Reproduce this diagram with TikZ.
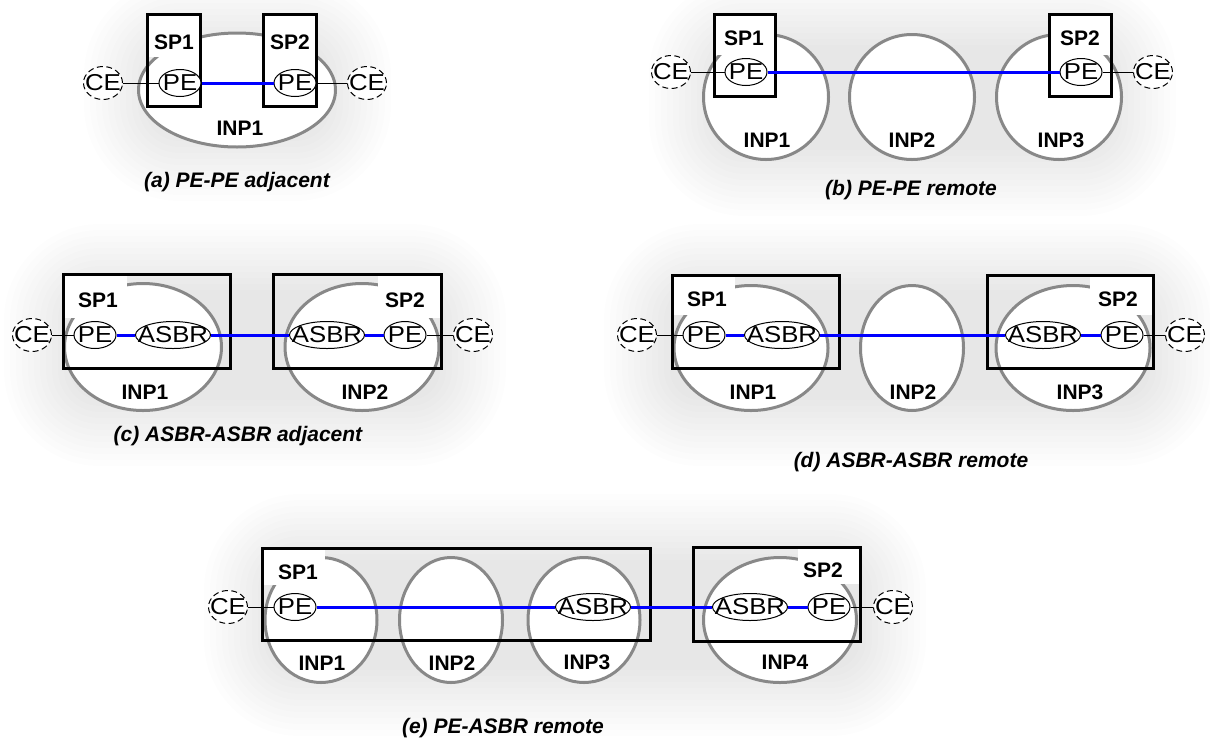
\documentclass[tikz,border=0pt]{standalone}
\usepackage{fontspec}
\setmainfont{Liberation Sans}
\usepackage{graphicx}
\usetikzlibrary{shapes.geometric}
\definecolor{inpgray}{HTML}{888888}
\definecolor{linkblue}{HTML}{0000FF}
\newcommand{\nt}[1]{\makebox[0pt]{\scalebox{1.12}[1]{#1}}}
\newcommand{\panelglow}[4]{%
  \foreach \k in {0,...,11}{%
    \pgfmathsetmacro{\rr}{30+6*\k}%
    \fill[black, opacity=0.0095, rounded corners=\rr pt] ({#1-6*\k},{#2-6*\k}) rectangle ({#3+6*\k},{#4+6*\k});
  }}
\tikzset{
  inp/.style={ellipse, draw=inpgray, line width=3pt, fill=white, inner sep=0pt},
  spbox/.style={rectangle, draw=black, line width=3pt, inner sep=0pt},
  patch/.style={rectangle, fill=white, draw=none, inner sep=0pt},
  pe/.style={ellipse, draw=black, line width=1pt, fill=white, inner sep=0pt, minimum width=42pt, minimum height=27pt, font=\fontsize{23}{26}\selectfont},
  asbr/.style={pe, minimum width=75pt},
  ce/.style={pe, dash pattern=on 6pt off 3.5pt, minimum width=39pt, minimum height=33pt},
  lbl/.style={font=\fontsize{21}{24}\selectfont\bfseries, inner sep=0pt},
  captext/.style={font=\fontsize{21}{24}\selectfont\bfseries\itshape, inner sep=0pt},
  blink/.style={draw=linkblue, line width=3pt},
  clink/.style={draw=black, line width=1pt},
}
\begin{document}
\begin{tikzpicture}[x=1pt, y=-1pt]
\useasboundingbox (0,0) rectangle (1210,740);
\fill[white] (0,0) rectangle (1210,740);
% glows
\panelglow{150}{45}{325}{135}
\panelglow{715}{45}{1110}{150}
\panelglow{70}{290}{440}{400}
\panelglow{670}{290}{1150}{400}
\panelglow{270}{560}{860}{670}

% ===== (a) =====
\node[inp, minimum width=197pt, minimum height=114pt] (a-inp1) at (237,90) {};
\node[patch, minimum width=52pt, minimum height=42pt] (a-p1) at (174,36) {};
\node[patch, minimum width=52pt, minimum height=42pt] (a-p2) at (290,36) {};
\node[spbox, minimum width=53pt, minimum height=92pt] (a-sp1) at (174,60.5) {};
\node[spbox, minimum width=53pt, minimum height=92pt] (a-sp2) at (290,60.5) {};
\node[pe] (a-pe1) at (180,83) {\nt{PE}};
\node[pe] (a-pe2) at (295,83) {\nt{PE}};
\node[ce] (a-ce1) at (103,83) {\nt{CE}};
\node[ce] (a-ce2) at (367,83) {\nt{CE}};
\draw[blink] (a-pe1) -- (a-pe2);
\draw[clink] (a-ce1) -- (a-pe1);
\draw[clink] (a-pe2) -- (a-ce2);
\node[lbl] (a-l1) at (174,42) {SP1};
\node[lbl] (a-l2) at (290,42) {SP2};
\node[lbl] (a-l3) at (240,128) {INP1};
\node[captext] (a-cap) at (237,182) {(a) PE-PE adjacent};

% ===== (b) =====
\node[inp, minimum width=125pt, minimum height=125pt] (b-inp1) at (766,97) {};
\node[inp, minimum width=125pt, minimum height=125pt] (b-inp2) at (912,97) {};
\node[inp, minimum width=125pt, minimum height=125pt] (b-inp3) at (1059,97) {};
\node[patch, minimum width=60pt, minimum height=40pt] (b-p1) at (745,35) {};
\node[patch, minimum width=60pt, minimum height=40pt] (b-p2) at (1080.5,35) {};
\node[spbox, minimum width=61pt, minimum height=82pt] (b-sp1) at (745,55.5) {};
\node[spbox, minimum width=62pt, minimum height=82pt] (b-sp2) at (1080.5,55.5) {};
\node[pe] (b-pe1) at (746,72) {\nt{PE}};
\node[pe] (b-pe2) at (1081,72) {\nt{PE}};
\node[ce] (b-ce1) at (671,72) {\nt{CE}};
\node[ce] (b-ce2) at (1153,72) {\nt{CE}};
\draw[blink] (b-pe1) -- (b-pe2);
\draw[clink] (b-ce1) -- (b-pe1);
\draw[clink] (b-pe2) -- (b-ce2);
\node[lbl] (b-l1) at (744,38) {SP1};
\node[lbl] (b-l2) at (1080,38) {SP2};
\node[lbl] (b-l3) at (767,140) {INP1};
\node[lbl] (b-l4) at (912,140) {INP2};
\node[lbl] (b-l5) at (1061,140) {INP3};
\node[captext] (b-cap) at (911,190) {(b) PE-PE remote};

% ===== (c) =====
\node[inp, minimum width=157pt, minimum height=127pt] (c-inp1) at (143,347) {};
\node[inp, minimum width=154pt, minimum height=127pt] (c-inp2) at (362,347) {};
\node[patch, minimum width=63pt, minimum height=43pt] (c-p1) at (95.5,296.5) {};
\node[patch, minimum width=63pt, minimum height=43pt] (c-p2) at (409.5,296.5) {};
\node[spbox, minimum width=167pt, minimum height=94pt] (c-sp1) at (147,321.5) {};
\node[spbox, minimum width=168pt, minimum height=94pt] (c-sp2) at (357.5,321.5) {};
\node[pe] (c-pe1) at (95,335) {\nt{PE}};
\node[asbr] (c-as1) at (173,335) {\nt{ASBR}};
\node[asbr] (c-as2) at (327,335) {\nt{ASBR}};
\node[pe] (c-pe2) at (405,335) {\nt{PE}};
\node[ce] (c-ce1) at (32,335) {\nt{CE}};
\node[ce] (c-ce2) at (473,335) {\nt{CE}};
\draw[blink] (c-pe1) -- (c-as1);
\draw[blink] (c-as1) -- (c-as2);
\draw[blink] (c-as2) -- (c-pe2);
\draw[clink] (c-ce1) -- (c-pe1);
\draw[clink] (c-pe2) -- (c-ce2);
\node[lbl] (c-l1) at (98,300) {SP1};
\node[lbl] (c-l2) at (405,300) {SP2};
\node[lbl] (c-l3) at (145,392) {INP1};
\node[lbl] (c-l4) at (365,392) {INP2};
\node[captext] (c-cap) at (238,436) {(c) ASBR-ASBR adjacent};

% ===== (d) =====
\node[inp, minimum width=154pt, minimum height=125pt] (d-inp1) at (751,348) {};
\node[inp, minimum width=103pt, minimum height=125pt] (d-inp2) at (912,348) {};
\node[inp, minimum width=154pt, minimum height=125pt] (d-inp3) at (1073,348) {};
\node[patch, minimum width=62pt, minimum height=39pt] (d-p1) at (704,295.5) {};
\node[patch, minimum width=63pt, minimum height=39pt] (d-p2) at (1121.5,295.5) {};
\node[spbox, minimum width=167pt, minimum height=93pt] (d-sp1) at (756,322) {};
\node[spbox, minimum width=166pt, minimum height=93pt] (d-sp2) at (1070.5,322) {};
\node[pe] (d-pe1) at (704,335) {\nt{PE}};
\node[asbr] (d-as1) at (782,335) {\nt{ASBR}};
\node[asbr] (d-as2) at (1043,335) {\nt{ASBR}};
\node[pe] (d-pe2) at (1122,335) {\nt{PE}};
\node[ce] (d-ce1) at (637,335) {\nt{CE}};
\node[ce] (d-ce2) at (1185,335) {\nt{CE}};
\draw[blink] (d-pe1) -- (d-as1);
\draw[blink] (d-as1) -- (d-as2);
\draw[blink] (d-as2) -- (d-pe2);
\draw[clink] (d-ce1) -- (d-pe1);
\draw[clink] (d-pe2) -- (d-ce2);
\node[lbl] (d-l1) at (707,299) {SP1};
\node[lbl] (d-l2) at (1118,299) {SP2};
\node[lbl] (d-l3) at (753,392) {INP1};
\node[lbl] (d-l4) at (913,392) {INP2};
\node[lbl] (d-l5) at (1080,392) {INP3};
\node[captext] (d-cap) at (911,462) {(d) ASBR-ASBR remote};

% ===== (e) =====
\node[inp, minimum width=112pt, minimum height=125pt] (e-inp1) at (321,620) {};
\node[inp, minimum width=103pt, minimum height=125pt] (e-inp2) at (451,620) {};
\node[inp, minimum width=112pt, minimum height=125pt] (e-inp3) at (584,620) {};
\node[inp, minimum width=153pt, minimum height=125pt] (e-inp4) at (780,620) {};
\node[patch, minimum width=62pt, minimum height=36pt] (e-p1) at (294,567) {};
\node[patch, minimum width=62pt, minimum height=36pt] (e-p2) at (829,566) {};
\node[spbox, minimum width=388pt, minimum height=92pt] (e-sp1) at (456.5,594.5) {};
\node[spbox, minimum width=167pt, minimum height=94pt] (e-sp2) at (777,594.5) {};
\node[pe] (e-pe1) at (295,607) {\nt{PE}};
\node[asbr] (e-as3) at (593,607) {\nt{ASBR}};
\node[asbr] (e-as4) at (750,607) {\nt{ASBR}};
\node[pe] (e-pe4) at (829,607) {\nt{PE}};
\node[ce] (e-ce1) at (228,607) {\nt{CE}};
\node[ce] (e-ce4) at (893,607) {\nt{CE}};
\draw[blink] (e-pe1) -- (e-as3);
\draw[blink] (e-as3) -- (e-as4);
\draw[blink] (e-as4) -- (e-pe4);
\draw[clink] (e-ce1) -- (e-pe1);
\draw[clink] (e-pe4) -- (e-ce4);
\node[lbl] (e-l1) at (298,572) {SP1};
\node[lbl] (e-l2) at (823,570) {SP2};
\node[lbl] (e-l3) at (322,663) {INP1};
\node[lbl] (e-l4) at (452,663) {INP2};
\node[lbl] (e-l5) at (587,662) {INP3};
\node[lbl] (e-l6) at (785,662) {INP4};
\node[captext] (e-cap) at (503,728) {(e) PE-ASBR remote};
\end{tikzpicture}
\end{document}
